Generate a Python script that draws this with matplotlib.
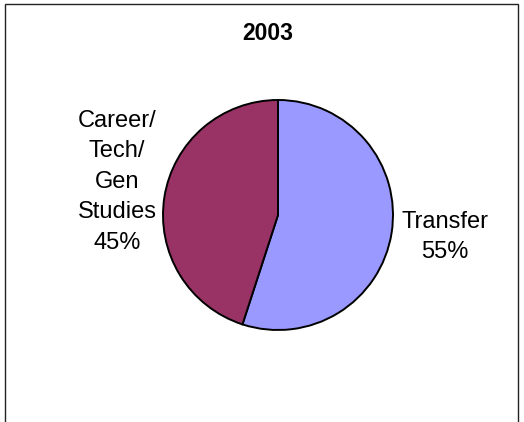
import matplotlib
matplotlib.use('Agg')
from matplotlib import pyplot as plt
from matplotlib.patches import Rectangle

# Data
labels = ['Transfer', 'Career/\nTech/\nGen\nStudies']
shares = [55, 45]
colours = ['#9999FF', '#993366']

plt.rcParams['font.family'] = ['Liberation Sans', 'DejaVu Sans']

W, H = 524, 422
fig = plt.figure(figsize=(W / 100, H / 100), dpi=100)

# pie placed by pixel centre/radius of the original
cx, cy, r = 278, 215, 115
ax = fig.add_axes([(cx - r) / W, 1 - (cy + r) / H, 2 * r / W, 2 * r / H])

wedges, texts, autotexts = ax.pie(
    shares, labels=labels, colors=colours, startangle=90, counterclock=False,
    autopct='%1.0f%%', pctdistance=1.45, labeldistance=1.45,
    wedgeprops=dict(edgecolor='black', linewidth=1.4),
    textprops=dict(fontsize=17))
ax.set_xlim(-1, 1)
ax.set_ylim(-1, 1)

# merge label and percent into one centred block
for t, a in zip(texts, autotexts):
    t.set_text(t.get_text() + '\n' + a.get_text())
    t.set_ha('center')
    t.set_va('center')
    t.set_linespacing(1.5)
    a.set_visible(False)

texts[0].set_position((1.45, -0.19))
texts[1].set_position((-1.40, 0.29))

fig.text(268 / W, 1 - 34 / H, '2003', ha='center', va='center',
         fontsize=16.5, fontweight='bold')

# chart border
fig.patches.append(Rectangle((5 / W, -0.05), 513 / W, 1.05 - 4 / H,
                             transform=fig.transFigure, fill=False,
                             edgecolor='#222222', linewidth=1))

fig.savefig('out.png', dpi=100)
